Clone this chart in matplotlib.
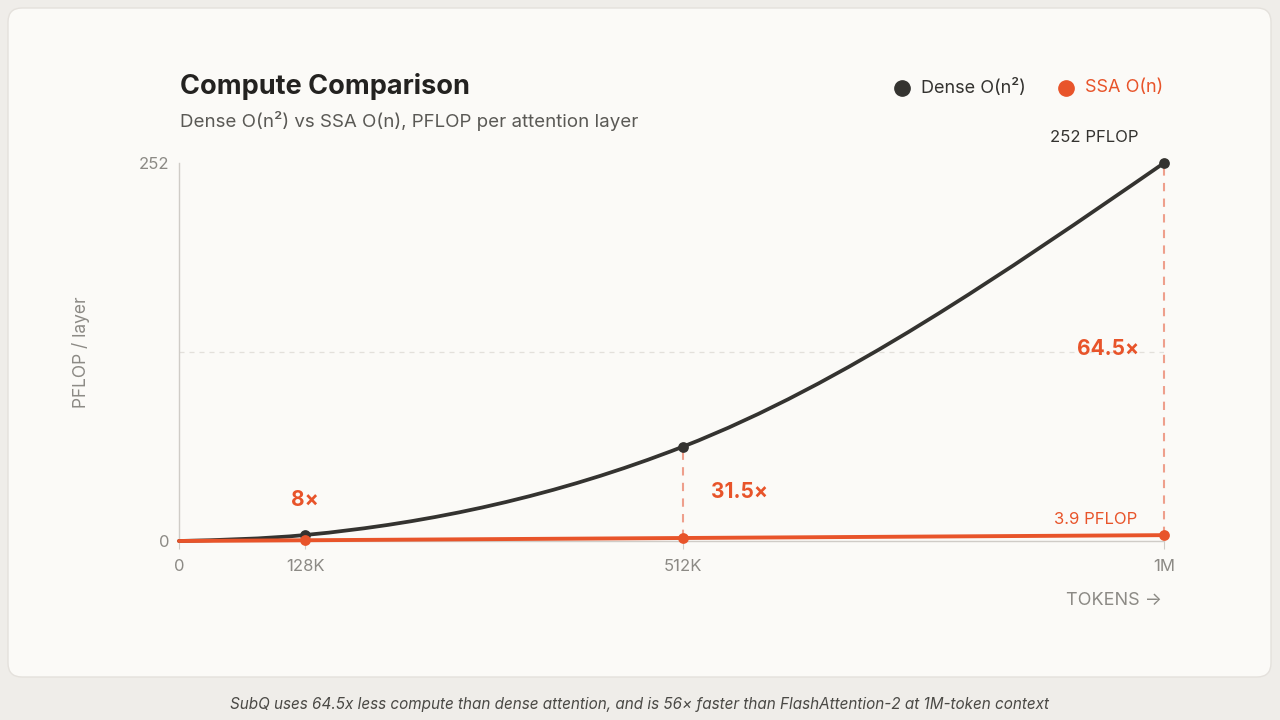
import matplotlib
matplotlib.use("Agg")
import matplotlib.pyplot as plt
import numpy as np
from matplotlib.path import Path
from matplotlib.patches import PathPatch, FancyBboxPatch
from matplotlib.transforms import IdentityTransform

# ---- data ----
tokens = [0, 128_000, 512_000, 1_000_000]
dense = [0.0, 4.0, 63.0, 252.0]
ssa = [0.0, 0.5, 2.0, 3.9]
x_tick_vals = [0, 128_000, 512_000, 1_000_000]
x_tick_labels = ["0", "128K", "512K", "1M"]
y_tick_vals = [0, 252]
y_tick_labels = ["0", "252"]
ratio_labels = ["8×", "31.5×", "64.5×"]

DARK = "#343330"
ORANGE = "#e8542a"
PINK = "#ee9f8c"
GREY = "#8c8a85"
FONT = ["Inter", "DejaVu Sans"]
plt.rcParams["font.family"] = FONT


def monotone_path(xs, ys):
    xs = np.asarray(xs, float); ys = np.asarray(ys, float)
    n = len(xs)
    h = np.diff(xs); s = np.diff(ys) / h
    t = np.zeros(n)
    for i in range(1, n - 1):
        p = (s[i - 1] * h[i] + s[i] * h[i - 1]) / (h[i - 1] + h[i])
        t[i] = (np.sign(s[i - 1]) + np.sign(s[i])) * min(abs(s[i - 1]), abs(s[i]), 0.5 * abs(p))
    t[0] = (3 * s[0] - t[1]) / 2
    t[-1] = (3 * s[-1] - t[-2]) / 2
    verts = [(xs[0], ys[0])]; codes = [Path.MOVETO]
    for i in range(n - 1):
        dx = h[i] / 3
        verts += [(xs[i] + dx, ys[i] + dx * t[i]), (xs[i + 1] - dx, ys[i + 1] - dx * t[i + 1]), (xs[i + 1], ys[i + 1])]
        codes += [Path.CURVE4] * 3
    return Path(verts, codes)


fig = plt.figure(figsize=(12.8, 7.2), dpi=100)
fig.patch.set_facecolor("#efede9")
card = FancyBboxPatch((8, 43), 1263, 669, boxstyle="round,pad=0,rounding_size=14",
                      transform=IdentityTransform(), facecolor="#fbfaf7",
                      edgecolor="#e4e1dc", linewidth=1.0, zorder=-10)
fig.patches.append(card)

ax = fig.add_axes([179 / 1280, 1 - 541 / 720, 985 / 1280, 378 / 720])
ax.set_zorder(1)
ax.set_facecolor("none")
ax.set_xlim(0, 1_000_000)
ax.set_ylim(0, 252)
for sp in ["top", "right"]:
    ax.spines[sp].set_visible(False)
ax.spines["left"].set_color("#cfccc7")
ax.spines["bottom"].set_color("#cfccc7")
ax.spines["left"].set_linewidth(1.0)
ax.spines["bottom"].set_linewidth(1.0)

ax.set_xticks(x_tick_vals, x_tick_labels)
ax.set_yticks(y_tick_vals, y_tick_labels)
ax.tick_params(axis="x", length=6, color="#cfccc7", labelcolor=GREY, labelsize=12, pad=7)
ax.tick_params(axis="y", length=0, labelcolor=GREY, labelsize=12, pad=7)
ax.set_ylabel("PFLOP / layer", color=GREY, fontsize=12.5)
ax.yaxis.set_label_coords(-0.09, 0.5)

# mid grid line
ax.axhline(252 / 2, color="#e3e0db", lw=0.9, ls=(0, (4, 4)), zorder=1)

# vertical dashed connectors
for i in range(1, len(tokens)):
    ax.plot([tokens[i], tokens[i]], [ssa[i], dense[i]], color=PINK, lw=1.5,
            ls=(0, (4, 3.5)), zorder=2, clip_on=False)

# dense curve
ax.add_patch(PathPatch(monotone_path(tokens, dense), fill=False, edgecolor=DARK,
                       lw=2.7, zorder=3, clip_on=False, capstyle="round"))
# ssa line
ax.add_patch(PathPatch(monotone_path(tokens, ssa), fill=False, edgecolor=ORANGE,
                       lw=2.8, zorder=4, clip_on=False, capstyle="round"))

ax.scatter(tokens[1:], dense[1:], s=60, color=DARK, zorder=5, clip_on=False, linewidths=0)
ax.scatter(tokens[1:], ssa[1:], s=60, color=ORANGE, zorder=6, clip_on=False, linewidths=0)

# annotations
ax.annotate("252 PFLOP", (tokens[3], dense[3]), xytext=(-50, 13), textcoords="offset points",
            ha="center", va="bottom", fontsize=12, color=DARK)
ax.annotate("3.9 PFLOP", (tokens[3], ssa[3]), xytext=(-19, 6), textcoords="offset points",
            ha="right", va="bottom", fontsize=12, color=ORANGE)
ax.annotate(ratio_labels[2], (tokens[3], 126), xytext=(-18, 2), textcoords="offset points",
            ha="right", va="center", fontsize=15, fontweight="bold", color=ORANGE)
ax.annotate(ratio_labels[1], (tokens[2], 33), xytext=(20, 0), textcoords="offset points",
            ha="left", va="center", fontsize=15, fontweight="bold", color=ORANGE)
ax.annotate(ratio_labels[0], (tokens[1], dense[1]), xytext=(0, 18), textcoords="offset points",
            ha="center", va="bottom", fontsize=15, fontweight="bold", color=ORANGE)

# titles
fig.text(180 / 1280, 1 - 86 / 720, "Compute Comparison", fontsize=19.5, fontweight="bold",
         color="#232220", ha="left", va="center")
fig.text(180 / 1280, 1 - 121 / 720, "Dense O(n²) vs SSA O(n), PFLOP per attention layer",
         fontsize=13.5, color="#5a5955", ha="left", va="center")

# legend
fig.lines.append(plt.Line2D([902 / 1280], [1 - 88 / 720], marker="o", ms=11, color=DARK,
                            ls="none", transform=fig.transFigure))
fig.text(921 / 1280, 1 - 88 / 720, "Dense O(n²)", fontsize=13, color=DARK, ha="left", va="center")
fig.lines.append(plt.Line2D([1066 / 1280], [1 - 88 / 720], marker="o", ms=11, color=ORANGE,
                            ls="none", transform=fig.transFigure))
fig.text(1085 / 1280, 1 - 88 / 720, "SSA O(n)", fontsize=13, color=ORANGE, ha="left", va="center")

# axis title
fig.text(1162 / 1280, 1 - 600 / 720, "TOKENS →", fontsize=13, color=GREY, ha="right", va="center")

# caption
fig.text(0.5, 1 - 704 / 720,
         "SubQ uses 64.5x less compute than dense attention, and is 56× faster than FlashAttention-2 at 1M-token context",
         fontsize=11, style="italic", color="#4a4945", ha="center", va="center")

fig.savefig("out.png", dpi=100, facecolor=fig.get_facecolor())
